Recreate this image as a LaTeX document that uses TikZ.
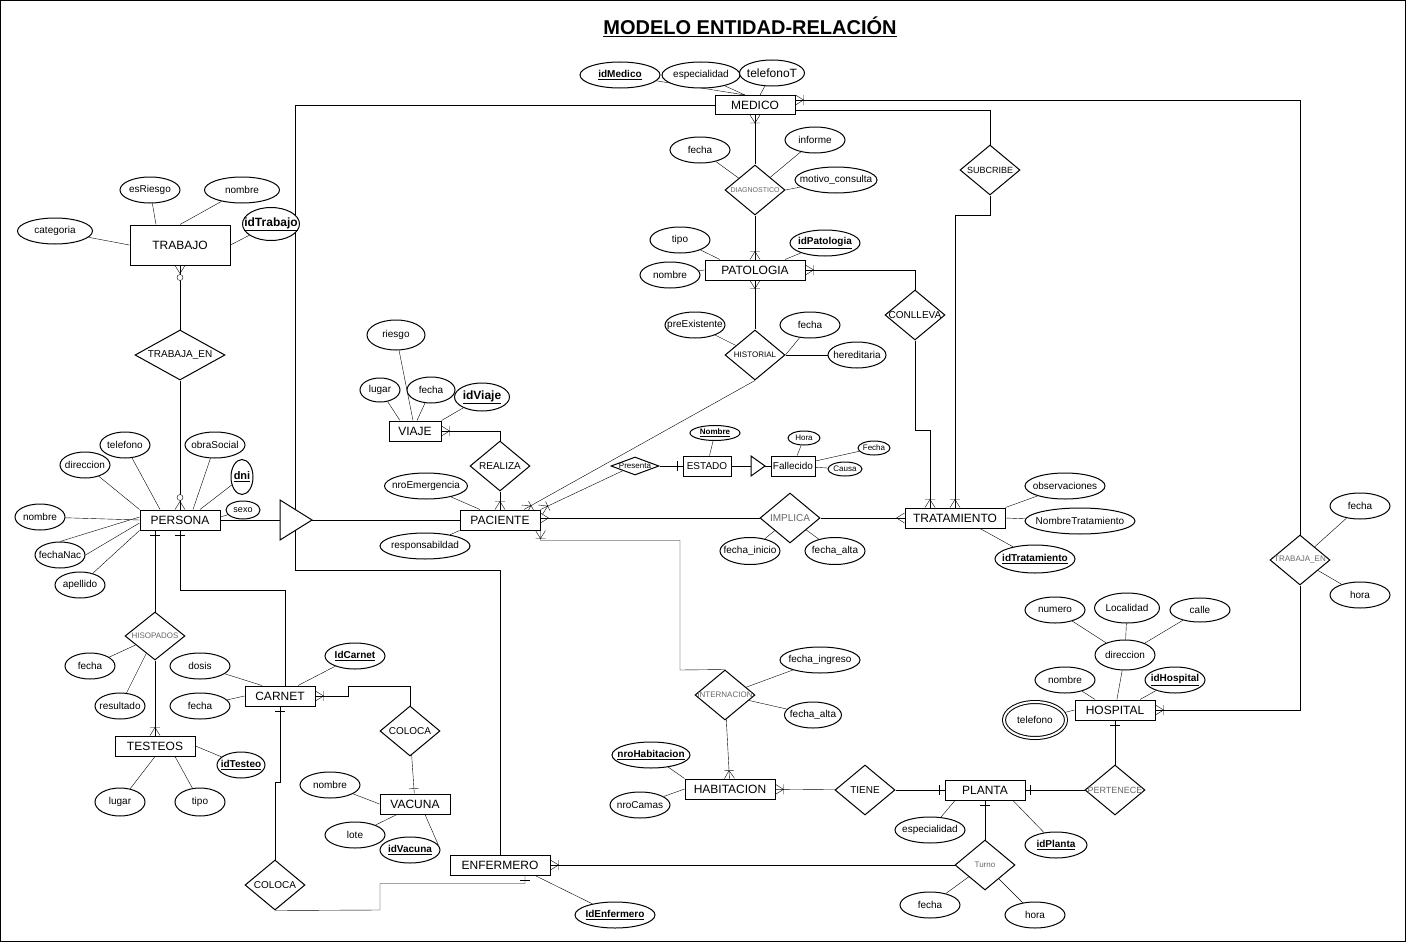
\documentclass[tikz,border=0pt]{standalone}
\usepackage{fontspec}
\setmainfont{Liberation Sans}
\usetikzlibrary{shapes.geometric,backgrounds}

\definecolor{gris}{gray}{0.4}
\newcommand{\clave}[1]{\underline{\textbf{#1}}}

% marcas de cardinalidad
\pgfarrowsdeclare{uno}{uno}
{\pgfarrowsleftextend{-6pt}\pgfarrowsrightextend{0pt}}
{\pgfsetdash{}{0pt}
 \pgfpathmoveto{\pgfpoint{-5pt}{5pt}}\pgfpathlineto{\pgfpoint{-5pt}{-5pt}}
 \pgfusepathqstroke}
\pgfarrowsdeclare{varios}{varios}
{\pgfarrowsleftextend{-9pt}\pgfarrowsrightextend{0pt}}
{\pgfsetdash{}{0pt}
 \pgfpathmoveto{\pgfpoint{0pt}{5pt}}\pgfpathlineto{\pgfpoint{-8pt}{0pt}}\pgfpathlineto{\pgfpoint{0pt}{-5pt}}
 \pgfusepathqstroke}
\pgfarrowsdeclare{unovarios}{unovarios}
{\pgfarrowsleftextend{-9pt}\pgfarrowsrightextend{0pt}}
{\pgfsetdash{}{0pt}
 \pgfpathmoveto{\pgfpoint{0pt}{5pt}}\pgfpathlineto{\pgfpoint{-8pt}{0pt}}\pgfpathlineto{\pgfpoint{0pt}{-5pt}}
 \pgfpathmoveto{\pgfpoint{-8pt}{5pt}}\pgfpathlineto{\pgfpoint{-8pt}{-5pt}}
 \pgfusepathqstroke}
\pgfarrowsdeclare{cerovarios}{cerovarios}
{\pgfarrowsleftextend{-16pt}\pgfarrowsrightextend{0pt}}
{\pgfsetdash{}{0pt}
 \pgfpathmoveto{\pgfpoint{0pt}{5pt}}\pgfpathlineto{\pgfpoint{-8pt}{0pt}}\pgfpathlineto{\pgfpoint{0pt}{-5pt}}
 \pgfusepathqstroke
 \pgfpathcircle{\pgfpoint{-12pt}{0pt}}{3pt}
 \pgfsetfillcolor{white}\pgfusepathqfillstroke}

\begin{document}
\begin{tikzpicture}[x=1pt, y=-1pt, line width=1pt,
            ent/.style={draw, fill=white, inner sep=0pt, minimum width=80pt, minimum height=20pt, font=\fontsize{12}{14}\selectfont},
            atr/.style={ellipse, draw, fill=white, inner xsep=-8pt, inner ysep=0pt, minimum width=60pt, minimum height=26pt, font=\fontsize{10}{12}\selectfont},
            rel/.style n args={3}{diamond, draw, fill=white, inner sep=0pt, minimum width=60pt, minimum height=50pt,
                label={[font=\fontsize{#2}{#2}\selectfont, text=#3]center:#1}}]
        \useasboundingbox (0,0) rectangle (1406,942);
        \node[font=\fontsize{20}{24}\selectfont\bfseries] (titulo) at (750,27) {\underline{MODELO ENTIDAD-RELACIÓN}};

        \node[ent, minimum height=19pt] (medico) at (755,105) {MEDICO};
        \node[ent, minimum width=100pt, minimum height=40pt] (trabajo) at (180,245) {TRABAJO};
        \node[ent, minimum width=100pt] (patologia) at (755,270) {PATOLOGIA};
        \node[ent, minimum width=52pt] (viaje) at (415,431) {VIAJE};
        \node[ent] (persona) at (180,520) {PERSONA};
        \node[ent] (paciente) at (500,520) {PACIENTE};
        \node[ent, minimum width=48pt, font=\fontsize{10}{12}\selectfont] (estado) at (707,466) {ESTADO};
        \node[ent, minimum width=44pt, font=\fontsize{10}{12}\selectfont] (fallecido) at (793,466) {Fallecido};
        \node[ent, minimum width=100pt] (tratamiento) at (955,518) {TRATAMIENTO};
        \node[ent, minimum width=70pt] (carnet) at (280,696) {CARNET};
        \node[ent] (testeos) at (155,746) {TESTEOS};
        \node[ent, minimum width=70pt] (vacuna) at (415,804) {VACUNA};
        \node[ent, minimum width=100pt] (enfermero) at (500,865) {ENFERMERO};
        \node[ent, minimum width=90pt] (habitacion) at (730,789) {HABITACION};
        \node[ent] (planta) at (985,790) {PLANTA};
        \node[ent] (hospital) at (1115,710) {HOSPITAL};

        \node[rel={DIAGNOSTICO}{7}{gris}] (diag) at (755,190) {};
        \node[rel={SUBCRIBE}{9}{black}] (subcribe) at (990,170) {};
        \node[rel={CONLLEVA}{10}{black}] (conlleva) at (915,315) {};
        \node[rel={HISTORIAL}{8}{black}] (historial) at (755,355) {};
        \node[rel={TRABAJA\_EN}{10}{black}, minimum width=90pt] (trabajaL) at (180,355) {};
        \node[rel={REALIZA}{10}{black}] (realiza) at (500,466) {};
        \node[rel={Presenta}{8}{black}, minimum width=48pt, minimum height=18pt] (presenta) at (635,466) {};
        \node[rel={IMPLICA}{10}{gris}] (implica) at (790,518) {};
        \node[rel={TRABAJA\_EN}{8}{gris}] (trabajaR) at (1300,560) {};
        \node[rel={HISOPADOS}{8}{gris}, minimum height=48pt] (hisopados) at (155,636) {};
        \node[rel={COLOCA}{10}{black}] (colocaA) at (410,731) {};
        \node[rel={COLOCA}{10}{black}] (colocaB) at (275,885) {};
        \node[rel={INTERNACION}{8}{gris}] (internacion) at (725,695) {};
        \node[rel={TIENE}{10}{black}] (tiene) at (865,790) {};
        \node[rel={PERTENECE}{9}{gris}] (pertenece) at (1115,790) {};
        \node[rel={Turno}{8}{gris}] (turno) at (985,865) {};

        \node[atr, minimum width=80pt] (idMedico) at (620,75) {\clave{idMedico}};
        \node[atr, minimum width=78pt] (especialidad) at (701,75) {especialidad};
        \node[atr, minimum width=65pt, font=\fontsize{12}{14}\selectfont] (telefonoT) at (772,73) {telefonoT};
        \node[atr] (fechaD) at (700,150) {fecha};
        \node[atr] (informe) at (815,140) {informe};
        \node[atr, minimum width=82pt] (motivo) at (836,180) {motivo\_consulta};
        \node[atr] (tipoP) at (680,240) {tipo};
        \node[atr] (nombreP) at (670,275) {nombre};
        \node[atr, minimum width=70pt] (idPatologia) at (825,243) {\clave{idPatologia}};
        \node[atr] (preExist) at (695,325) {preExistente};
        \node[atr] (fechaH) at (810,325) {fecha};
        \node[atr, minimum width=58pt] (hered) at (857,355) {hereditaria};
        \node[atr] (esRiesgo) at (150,190) {esRiesgo};
        \node[atr, minimum width=75pt] (nombreT) at (242,190) {nombre};
        \node[atr, minimum width=75pt] (categoria) at (55,231) {categoria};
        \node[atr, minimum width=57pt, minimum height=33pt, font=\fontsize{12}{14}\selectfont] (idTrabajo) at (271,224) {\clave{idTrabajo}};
        \node[atr, minimum width=58pt, minimum height=30pt] (riesgo) at (396,335) {riesgo};
        \node[atr, minimum width=40pt, minimum height=24pt] (lugar) at (380,390) {lugar};
        \node[atr, minimum width=48pt] (fechaV) at (431,390) {fecha};
        \node[atr, minimum width=55pt, minimum height=28pt, font=\fontsize{12}{14}\selectfont] (idViaje) at (482,397) {\clave{idViaje}};
        \node[atr, minimum width=83pt] (nroEmerg) at (426,486) {nroEmergencia};
        \node[atr, minimum width=90pt] (respons) at (425,546) {responsabildad};
        \node[atr, minimum width=50pt, minimum height=15pt, font=\fontsize{8}{10}\selectfont] (nombreE) at (715,433) {\clave{Nombre}};
        \node[atr, minimum width=32pt, minimum height=14pt, font=\fontsize{8}{10}\selectfont] (hora) at (804,438) {Hora};
        \node[atr, minimum width=32pt, minimum height=14pt, font=\fontsize{8}{10}\selectfont] (fechaF) at (874,448) {Fecha};
        \node[atr, minimum width=34pt, minimum height=14pt, font=\fontsize{8}{10}\selectfont] (causa) at (845,469) {Causa};
        \node[atr, minimum height=27pt] (fInicio) at (750,551) {fecha\_inicio};
        \node[atr, minimum height=27pt] (fAlta) at (835,551) {fecha\_alta};
        \node[atr, minimum width=80pt] (obs) at (1065,486) {observaciones};
        \node[atr, minimum width=110pt] (nombreTr) at (1080,521) {NombreTratamiento};
        \node[atr, minimum width=80pt, minimum height=28pt] (idTrat) at (1035,559) {\clave{idTratamiento}};
        \node[atr] (fechaR) at (1360,506) {fecha};
        \node[atr] (horaR) at (1360,595) {hora};
        \node[atr] (numero) at (1055,610) {numero};
        \node[atr, minimum width=65pt, minimum height=30pt] (localidad) at (1127,608) {Localidad};
        \node[atr, minimum height=24pt] (calle) at (1200,610) {calle};
        \node[atr, minimum height=30pt] (direccion) at (1125,655) {direccion};
        \node[atr] (nombreHo) at (1065,680) {nombre};
        \node[atr] (idHospital) at (1175,680) {\clave{idHospital}};
        \node[atr, minimum width=62pt, minimum height=36pt, double, double distance=2pt] (telefonoHo) at (1035,720) {telefono};
        \node[atr, minimum width=80pt] (fIngreso) at (820,660) {fecha\_ingreso};
        \node[atr, minimum width=57pt] (fAltaI) at (813,715) {fecha\_alta};
        \node[atr, minimum width=78pt] (nroHab) at (651,755) {\clave{nroHabitacion}};
        \node[atr] (nroCamas) at (640,805) {nroCamas};
        \node[atr, minimum width=70pt] (especialidadP) at (930,830) {especialidad};
        \node[atr, minimum width=62pt] (idPlanta) at (1056,845) {\clave{idPlanta}};
        \node[atr] (fechaTu) at (930,905) {fecha};
        \node[atr] (horaTu) at (1035,915) {hora};
        \node[atr, minimum width=50pt] (telefono) at (125,445) {telefono};
        \node[atr] (obraSocial) at (215,445) {obraSocial};
        \node[atr, minimum width=50pt] (direccionP) at (85,465) {direccion};
        \node[atr, minimum width=22pt, minimum height=35pt, font=\fontsize{11}{13}\selectfont] (dni) at (242,477) {\clave{dni}};
        \node[atr, minimum width=34pt, minimum height=18pt, font=\fontsize{9}{11}\selectfont] (sexo) at (243,510) {sexo};
        \node[atr, minimum width=50pt] (nombrePe) at (40,517) {nombre};
        \node[atr, minimum width=50pt] (fechaNac) at (60,555) {fechaNac};
        \node[atr, minimum width=50pt] (apellido) at (80,585) {apellido};
        \node[atr, minimum width=50pt] (fechaHi) at (90,666) {fecha};
        \node[atr, minimum width=50pt] (resultado) at (120,706) {resultado};
        \node[atr, minimum width=48pt] (idTesteo) at (241,765) {\clave{idTesteo}};
        \node[atr, minimum width=50pt, minimum height=28pt] (lugarT) at (120,802) {lugar};
        \node[atr, minimum width=50pt, minimum height=28pt] (tipoT) at (200,802) {tipo};
        \node[atr] (dosis) at (200,666) {dosis};
        \node[atr] (fechaC) at (200,706) {fecha};
        \node[atr] (idCarnet) at (355,656) {\clave{IdCarnet}};
        \node[atr] (nombreV) at (330,785) {nombre};
        \node[atr] (lote) at (355,835) {lote};
        \node[atr] (idVacuna) at (410,850) {\clave{idVacuna}};
        \node[atr, minimum width=80pt] (idEnf) at (615,915) {\clave{IdEnfermero}};

        \coordinate (isaPbase) at (280,520);
        \coordinate (isaPtip) at (312,520);
        \coordinate (isaEbase) at (751,466);
        \coordinate (isaEtip) at (765,466);
        \draw[fill=white] (280,500) -- (isaPtip) -- (280,540) -- cycle;
        \draw[fill=white] (751,456) -- (isaEtip) -- (751,476) -- cycle;

        \begin{scope}[on background layer]
        \draw (0.5,0.5) rectangle (1405.5,941.5);
        % atributos
        \draw (idMedico) -- ([xshift=-10pt]medico.north);
        \draw (especialidad) -- ([xshift=-10pt]medico.north);
        \draw (telefonoT) -- ([xshift=5pt]medico.north);
        \draw (fechaD) -- (diag);
        \draw (informe) -- (diag);
        \draw (motivo) -- (diag.east);
        \draw (tipoP) -- ([xshift=-35pt]patologia.north);
        \draw (nombreP) -- (patologia.west);
        \draw (idPatologia) -- ([xshift=30pt]patologia.north);
        \draw (preExist) -- (historial);
        \draw (historial.east) -- (fechaH);
        \draw (historial.east) -- (hered);
        \draw (esRiesgo) -- ([xshift=-24pt]trabajo.north);
        \draw (nombreT) -- (trabajo.north);
        \draw (categoria) -- (trabajo.west);
        \draw (idTrabajo) -- (trabajo.east);
        \draw (riesgo) -- ([xshift=-2pt]viaje.north);
        \draw (lugar) -- ([xshift=-15pt]viaje.north);
        \draw (fechaV) -- ([xshift=2pt]viaje.north);
        \draw (idViaje) -- (viaje.north east);
        \draw (nroEmerg) -- ([xshift=-20pt]paciente.north);
        \draw (respons) -- (paciente.south west);
        \draw (nombreE) -- (estado);
        \draw (hora) -- (fallecido);
        \draw (fechaF) -- (fallecido);
        \draw (causa) -- (fallecido);
        \draw (fInicio) -- (implica);
        \draw (fAlta) -- (implica);
        \draw (obs) -- (tratamiento.north east);
        \draw (nombreTr) -- (tratamiento.east);
        \draw (idTrat) -- ([xshift=25pt]tratamiento.south);
        \draw (fechaR) -- (trabajaR);
        \draw (horaR) -- (trabajaR);
        \draw (numero) -- (direccion);
        \draw (localidad) -- (direccion);
        \draw (calle) -- (direccion);
        \draw (direccion) -- (hospital);
        \draw (nombreHo) -- ([xshift=-20pt]hospital.north);
        \draw (idHospital) -- ([xshift=25pt]hospital.north);
        \draw (telefonoHo) -- (hospital.west);
        \draw (fIngreso) -- (internacion);
        \draw (fAltaI) -- (internacion);
        \draw (nroHab) -- (habitacion.north west);
        \draw (nroCamas) -- (habitacion.west);
        \draw (especialidadP) -- ([xshift=-30pt]planta.south);
        \draw (idPlanta) -- ([xshift=28pt]planta.south);
        \draw (fechaTu) -- (turno);
        \draw (horaTu) -- (turno);
        \draw (telefono) -- ([xshift=-20pt]persona.north);
        \draw (obraSocial) -- ([xshift=13pt]persona.north);
        \draw (direccionP) -- (persona.north west);
        \draw (dni) -- ([xshift=20pt]persona.north);
        \draw (sexo) -- ([yshift=3pt]persona.east);
        \draw (nombrePe) -- (persona.west);
        \draw (fechaNac.north) -- ([yshift=3pt]persona.west);
        \draw (fechaNac.east) -- ([yshift=-3pt]persona.west);
        \draw (apellido) -- (persona.south west);
        \draw (fechaHi) -- (hisopados);
        \draw (resultado) -- (hisopados);
        \draw (idTesteo) -- (testeos.east);
        \draw (lugarT) -- (testeos.south);
        \draw (tipoT) -- ([xshift=20pt]testeos.south);
        \draw (dosis) -- ([xshift=-18pt]carnet.north);
        \draw (fechaC) -- (carnet.west);
        \draw (idCarnet) -- ([xshift=18pt]carnet.north);
        \draw (nombreV) -- (vacuna.west);
        \draw (lote) -- ([xshift=-18pt]vacuna.south);
        \draw ([xshift=10pt]vacuna.south) -- (idVacuna.10);
        \draw ([xshift=35pt]enfermero.south) -- (idEnf);
        % relaciones
        \draw[unovarios-] (medico) -- (diag);
        \draw[-unovarios] (diag) -- (patologia);
        \draw[unovarios-] (patologia) -- (historial);
        \draw[-unovarios] (historial.south) -- ([xshift=24pt]paciente.north);
        \draw[unovarios-] (patologia.east) -| (conlleva.north);
        \draw[-unovarios] (conlleva.south) -- (915,430) -- (930,430) -- ([xshift=-25pt]tratamiento.north);
        \draw (subcribe.north) |- ([yshift=-5pt]medico.east);
        \draw[-unovarios] (subcribe.south) -- (990,215) -| (tratamiento.north);
        \draw[unovarios-] ([yshift=5pt]medico.east) -| (trabajaR.north);
        \draw[unovarios-] (hospital.east) -| (trabajaR.south);
        \draw[cerovarios-] (trabajo) -- (trabajaL);
        \draw[cerovarios-] (persona) -- (trabajaL);
        \draw[unovarios-] (viaje.east) -| (realiza.north);
        \draw[-unovarios] (realiza) -- (paciente);
        \draw[-unovarios] (presenta.south west) -- (paciente.north east);
        \draw[-uno] (presenta) -- (estado);
        \draw (estado) -- (isaEbase);
        \draw (isaEtip) -- (fallecido);
        \draw[varios-] ([yshift=2pt]paciente.east) -- (implica);
        \draw[-varios] (implica) -- (tratamiento);
        \draw[unovarios-] (paciente.south east) -- ++(0,10) -| (680,670) -- (internacion.north);
        \draw[-unovarios] (internacion) -- (habitacion);
        \draw[unovarios-] (habitacion) -- (tiene);
        \draw[-uno] (tiene) -- (planta);
        \draw[uno-] (planta) -- (pertenece);
        \draw[-uno] (pertenece) -- (hospital);
        \draw[uno-] (planta) -- (turno);
        \draw[-unovarios] (turno) -- (enfermero);
        \draw[uno-] ([xshift=25pt]enfermero.south) -- ++(0,8) -| (380,910) -- (colocaB.south);
        \draw[uno-] (carnet.south) -- (280,782) -- (275,782) -- (colocaB.north);
        \draw[unovarios-] (carnet.east) -- (348,696) -- (348,686) -| (colocaA.north);
        \draw[-uno] (colocaA) -- (vacuna);
        \draw[uno-] (persona.south -| hisopados) -- (hisopados);
        \draw[-unovarios] (hisopados) -- (testeos);
        \draw[uno-] (persona.south) |- (285,590) -- ([xshift=5pt]carnet.north);
        \draw (enfermero.north) -- (500,570) -| (295,105) -- (medico.west);
        \draw (persona) -- (isaPbase);
        \draw (isaPtip) -- (paciente);
        \end{scope}
\end{tikzpicture}
\end{document}
